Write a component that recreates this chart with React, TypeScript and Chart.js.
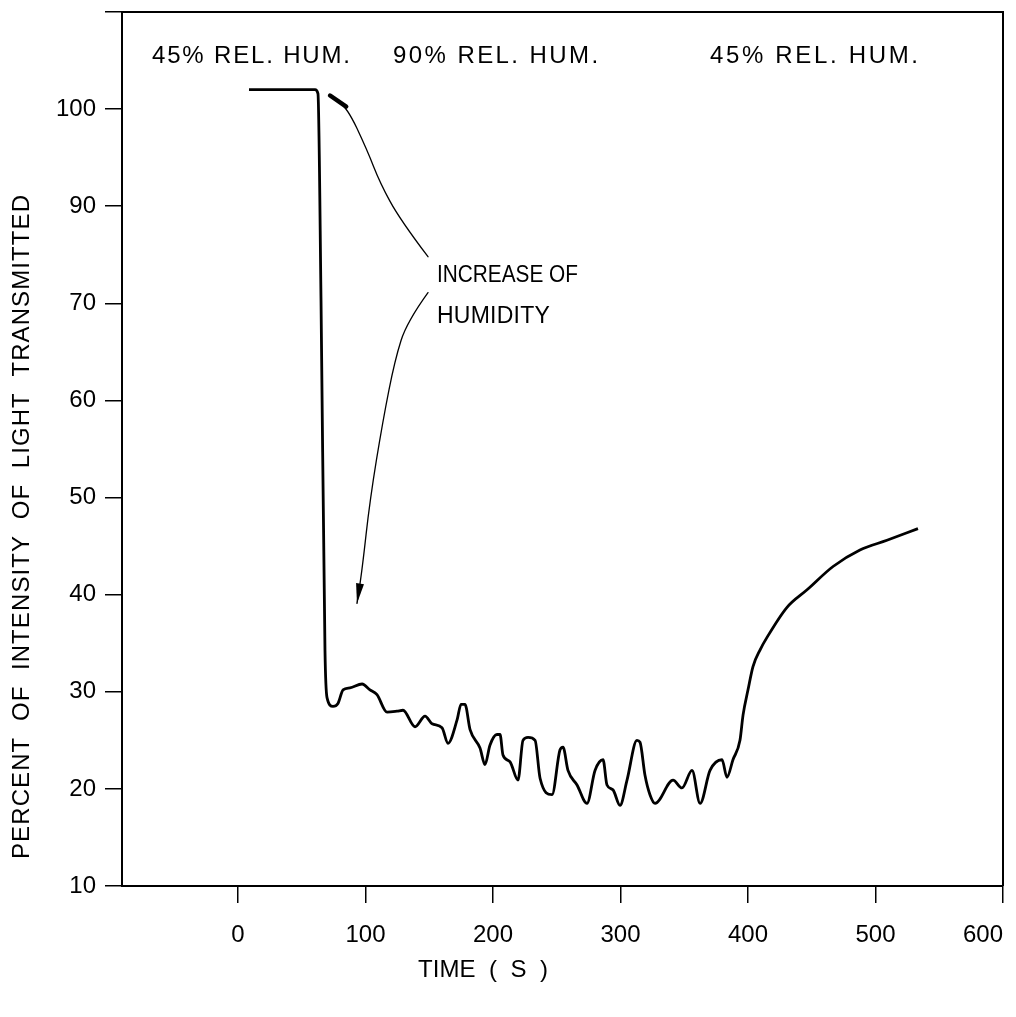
import React, { useEffect, useRef } from 'react';
import { Chart, registerables } from 'chart.js';

Chart.register(...registerables);

// ---- data ----
const timeS = [
  8.6, 60.4, 62.7, 65.1, 68.2, 69.8, 74.5, 78.4, 82.4, 87.8,
  97.3, 103.5, 109.0, 116.9, 124.7, 129.4, 138.8, 146.7, 152.2, 160.0,
  164.7, 171.8, 174.9, 178.0, 182.0, 189.8, 193.7, 197.6, 203.1, 205.5,
  207.8, 213.3, 219.6, 223.5, 227.5, 233.0, 236.9, 246.3, 252.5, 254.9,
  258.8, 265.9, 273.7, 280.0, 286.3, 289.4, 294.1, 299.6, 305.1, 312.9,
  315.3, 319.2, 323.1, 327.1, 341.2, 348.2, 356.1, 362.4, 370.2, 379.6,
  383.5, 388.2, 393.7, 396.1, 400.0, 403.9, 409.4, 414.9, 430.6, 446.3,
  466.7, 487.8, 509.0, 533.3,
];
const percentTransmitted = [
  92.0, 92.0, 91.6, 70.3, 34.3, 29.4, 28.5, 28.8, 30.2, 30.4,
  30.8, 30.2, 29.7, 27.9, 28.0, 28.1, 26.4, 27.5, 26.7, 26.3,
  24.7, 27.1, 28.7, 28.7, 26.1, 24.2, 22.5, 24.5, 25.6, 25.6,
  23.5, 22.8, 20.9, 25.0, 25.3, 25.0, 21.1, 19.4, 24.0, 24.3,
  21.9, 20.4, 18.5, 21.9, 23.0, 20.4, 19.9, 18.3, 20.9, 25.0,
  24.8, 21.4, 19.4, 18.5, 20.9, 20.1, 21.9, 18.5, 21.9, 23.0,
  21.2, 23.0, 25.0, 27.6, 30.2, 32.6, 34.3, 35.6, 38.7, 40.5,
  42.9, 44.6, 45.6, 46.8,
];
const xTickValues = [0, 100, 200, 300, 400, 500, 600];
const yTickValues = [10, 20, 30, 40, 50, 60, 70, 80, 90, 100];
const yTickLabels = ['10', '20', '30', '40', '50', '60', '70', '90', '100', ''];
const headerTexts = ['45% REL. HUM.', '90% REL. HUM.', '45% REL. HUM.'];
const noteLines = ['INCREASE OF', 'HUMIDITY'];
const xTitle = 'TIME  (  S  )';
const yTitle = 'PERCENT  OF  INTENSITY  OF  LIGHT  TRANSMITTED';

// ---- annotation placement (data coordinates) ----
const annot = {
  headerX: [-67.5, 121.6, 370.2],
  headerY: 95.4,
  headerW: [198, 205, 208],
  noteX: 156,
  noteY: [72.9, 68.6],
  noteW: [141, 113],
  arrowUp: [[149.0, 74.8], [127.1, 78.6], [111.4, 82.4], [101.2, 85.8], [85.5, 90.2], [72.2, 91.4]],
  arrowDown: [[149.0, 71.1], [132.5, 68.1], [123.1, 64.2], [113.7, 58.0], [103.5, 49.8], [97.3, 42.5], [93.3, 39.1]],
};

const FONT = "'Liberation Sans', Arial, sans-serif";

function drawFit(ctx: CanvasRenderingContext2D, text: string, left: number, cy: number, width: number) {
  (ctx as any).letterSpacing = '0px';
  const w = ctx.measureText(text).width;
  const n = Array.from(text).length - 1;
  ctx.textAlign = 'left';
  ctx.textBaseline = 'middle';
  if (w > width) {
    // condense horizontally (narrow lettering)
    ctx.save();
    ctx.translate(left, cy);
    ctx.scale(width / w, 1);
    ctx.fillText(text, 0, 0);
    ctx.restore();
    return;
  }
  const ls = n > 0 ? (width - w) / n : 0;
  (ctx as any).letterSpacing = ls + 'px';
  ctx.fillText(text, left, cy);
  (ctx as any).letterSpacing = '0px';
}

function smoothPath(ctx: CanvasRenderingContext2D, pts: number[][]) {
  ctx.beginPath();
  ctx.moveTo(pts[0][0], pts[0][1]);
  for (let i = 1; i < pts.length - 1; i++) {
    const mx = (pts[i][0] + pts[i + 1][0]) / 2;
    const my = (pts[i][1] + pts[i + 1][1]) / 2;
    ctx.quadraticCurveTo(pts[i][0], pts[i][1], mx, my);
  }
  const l = pts[pts.length - 1];
  ctx.lineTo(l[0], l[1]);
  ctx.stroke();
}

const figurePlugin = {
  id: 'figurePlugin',
  beforeDraw(chart: any) {
    const { ctx, width, height } = chart;
    ctx.save();
    ctx.fillStyle = '#fff';
    ctx.fillRect(0, 0, width, height);
    ctx.restore();
  },
  afterDraw(chart: any) {
    const { ctx, chartArea: a } = chart;
    const xs = chart.scales.x;
    const ys = chart.scales.y;
    const P = (p: number[]) => [xs.getPixelForValue(p[0]), ys.getPixelForValue(p[1])];
    ctx.save();
    ctx.strokeStyle = '#000';
    ctx.fillStyle = '#000';
    // top and right frame
    ctx.lineWidth = 2;
    ctx.beginPath();
    ctx.moveTo(a.left, a.top);
    ctx.lineTo(a.right, a.top);
    ctx.lineTo(a.right, a.bottom);
    ctx.stroke();

    // header labels
    ctx.font = `24px ${FONT}`;
    headerTexts.forEach((t, i) => {
      drawFit(ctx, t, xs.getPixelForValue(annot.headerX[i]), ys.getPixelForValue(annot.headerY), annot.headerW[i]);
    });
    // note
    ctx.font = `23px ${FONT}`;
    noteLines.forEach((t, i) => {
      drawFit(ctx, t, xs.getPixelForValue(annot.noteX), ys.getPixelForValue(annot.noteY[i]), annot.noteW[i]);
    });

    // arrows
    ctx.lineWidth = 1.3;
    ctx.lineCap = 'round';
    const up = annot.arrowUp.map(P);
    smoothPath(ctx, up);
    const u1 = up[up.length - 2];
    const u2 = up[up.length - 1];
    ctx.lineWidth = 4.5;
    ctx.beginPath();
    ctx.moveTo(u1[0] + (u2[0] - u1[0]) * 0.05, u1[1] + (u2[1] - u1[1]) * 0.05);
    ctx.lineTo(u2[0], u2[1]);
    ctx.stroke();

    ctx.lineWidth = 1.3;
    const dn = annot.arrowDown.map(P);
    smoothPath(ctx, dn);
    const d1 = dn[dn.length - 2];
    const d2 = dn[dn.length - 1];
    const dx = d2[0] - d1[0];
    const dy = d2[1] - d1[1];
    const len = Math.hypot(dx, dy);
    const ux = dx / len, uy = dy / len;
    const bx = d2[0] - ux * 20, by = d2[1] - uy * 20;
    ctx.beginPath();
    ctx.moveTo(d2[0], d2[1]);
    ctx.lineTo(bx - uy * 4, by + ux * 4);
    ctx.lineTo(bx + uy * 4, by - ux * 4);
    ctx.closePath();
    ctx.fill();

    // axis titles
    ctx.font = `24px ${FONT}`;
    drawFit(ctx, xTitle, 483 - 65, 970, 130);
    ctx.save();
    ctx.translate(22, 527);
    ctx.rotate(-Math.PI / 2);
    drawFit(ctx, yTitle, -332, 0, 664);
    ctx.restore();
    ctx.restore();
  },
};

export default function App() {
  const ref = useRef<HTMLCanvasElement>(null);
  useEffect(() => {
    const points = timeS.map((t, i) => ({ x: t, y: percentTransmitted[i] }));
    const chart = new Chart(ref.current as HTMLCanvasElement, {
      type: 'line',
      data: {
        datasets: [
          {
            data: points,
            borderColor: '#000',
            borderWidth: 2.8,
            pointRadius: 0,
            fill: false,
            cubicInterpolationMode: 'monotone',
          },
        ],
      },
      options: {
        animation: false,
        responsive: true,
        maintainAspectRatio: false,
        layout: { padding: { top: 12, right: 13, left: 0, bottom: 0 } },
        plugins: { legend: { display: false }, tooltip: { enabled: false }, title: { display: false } },
        scales: {
          x: {
            type: 'linear',
            min: -91,
            max: 600,
            afterBuildTicks: (s: any) => {
              s.ticks = [{ value: s.min }, ...xTickValues.map((v) => ({ value: v }))];
            },
            afterFit: (s: any) => {
              s.height = 131;
              s.paddingLeft = 0;
              s.paddingRight = 0;
            },
            ticks: {
              align: 'inner',
              maxRotation: 0,
              autoSkip: false,
              padding: 18,
              color: '#000',
              font: { family: FONT, size: 24 },
              callback: (_v: any, i: number) => (i === 0 ? '' : String(xTickValues[i - 1])),
            },
            grid: {
              drawOnChartArea: false,
              drawTicks: true,
              tickLength: 17,
              lineWidth: 1.5,
              color: (c: any) => (c.tick && c.tick.value < 0 ? 'rgba(0,0,0,0)' : '#000'),
            },
            border: { display: true, color: '#000', width: 2 },
          },
          y: {
            type: 'linear',
            min: 10,
            max: 100,
            afterBuildTicks: (s: any) => {
              s.ticks = yTickValues.map((v) => ({ value: v }));
            },
            afterFit: (s: any) => {
              s.width = 122;
              s.paddingTop = 0;
              s.paddingBottom = 0;
            },
            ticks: {
              autoSkip: false,
              padding: 9,
              color: '#000',
              font: { family: FONT, size: 24 },
              callback: (_v: any, i: number) => yTickLabels[i],
            },
            grid: {
              drawOnChartArea: false,
              drawTicks: true,
              tickLength: 17,
              lineWidth: 1.5,
              color: '#000',
            },
            border: { display: true, color: '#000', width: 2 },
          },
        },
      },
      plugins: [figurePlugin],
    } as any);
    return () => chart.destroy();
  }, []);
  return (
    <div style={{ position: 'fixed', left: 0, top: 0, width: 1016, height: 1017, background: '#fff' }}>
      <canvas ref={ref} />
    </div>
  );
}
